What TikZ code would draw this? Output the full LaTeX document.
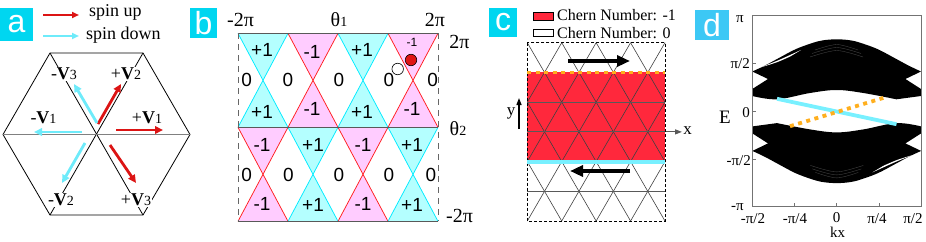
\documentclass[tikz,border=0pt]{standalone}
\usepackage{fontspec}
\setmainfont{Liberation Serif}
\setsansfont{Liberation Sans}
\usetikzlibrary{arrows.meta}
\newcommand\myfs[1]{\fontsize{#1}{#1}\selectfont}
\newcommand\vlabel[2]{#1\textbf{V}{\myfs{14}#2}}
\definecolor{boxcy}{RGB}{0,214,240}
\definecolor{boxcyd}{RGB}{60,200,245}
\definecolor{arrred}{RGB}{220,20,20}
\definecolor{arrcy}{RGB}{110,235,250}
\definecolor{cyf}{RGB}{180,255,255}
\definecolor{cyl}{RGB}{0,235,255}
\definecolor{pkf}{RGB}{255,204,255}
\definecolor{pkl}{RGB}{255,30,30}
\definecolor{chred}{RGB}{255,40,60}
\definecolor{edgeor}{RGB}{255,175,30}
\definecolor{edgecy}{RGB}{120,240,255}
\newcommand\bandshape{%
  \fill[black] plot[smooth, tension=0.6] coordinates {(752.3,71.5) (765,65.5) (778,58.5) (795,49.5) (810,43.8) (822,40.5) (836.7,39.3) (851.4,40.5) (863.4,43.8) (878.4,49.5) (895.4,58.5) (908.4,65.5) (921,71.5)}
    -- (905.4,79) -- (921,89) -- (921,96)
    -- plot[smooth, tension=0.6] coordinates {(896.4,99.3) (863.4,93) (836.7,90) (810,93) (777,99.3) (752.3,96)}
    -- (752.3,89) -- (768,79) -- cycle;
  \fill[white] plot[smooth] coordinates {(760,67.6) (778,60.4) (801,50)} -- plot[smooth] coordinates {(790,56.6) (777,62.2) (760,67.6)} -- cycle;
  \draw[gray!55!black, line width=0.35] plot[smooth] coordinates {(815,50) (836.7,44.5) (858,50)};
  \draw[gray!55!black, line width=0.35] plot[smooth] coordinates {(812,53.5) (836.7,47.5) (861,53.5)};
  \draw[gray!55!black, line width=0.35] plot[smooth] coordinates {(810,57) (836.7,50.5) (863,57)};
}
\begin{document}
\begin{tikzpicture}[x=1pt,y=-1pt,
  hexline/.style={draw=black, line width=0.8},
  vlab/.style={fill=white, inner sep=0.6pt, font=\myfs{18}},
  redarr/.style={draw=arrred, line width=2.8, -{Triangle[length=8pt,width=7.5pt]}},
  cyarr/.style={draw=arrcy, line width=2.8, -{Triangle[length=8pt,width=7.5pt]}},
  legred/.style={draw=arrred, line width=2.2, -{Triangle[length=7pt,width=6pt]}},
  legcy/.style={draw=arrcy, line width=2.2, -{Triangle[length=7pt,width=6pt]}},
  plabel/.style={fill=boxcy, text=white, font=\sffamily\myfs{32}, inner sep=0, minimum width=28, minimum height=30},
  numlab/.style={font=\sffamily\myfs{19}, inner sep=0},
  serlab/.style={font=\myfs{20}, inner sep=0},
  hgray/.style={draw=black!65, line width=0.9},
  latt/.style={draw=black!75, line width=0.6},
  blkarr/.style={draw=black, line width=4, -{Triangle[length=13pt,width=11pt]}},
  ticklab/.style={font=\myfs{15}, inner sep=0},
  edgecyl/.style={draw=edgecy, line width=3.8},
  edgeorl/.style={draw=edgeor, line width=3.8, dash pattern=on 4 off 4.5}
]
\useasboundingbox (0,0) rectangle (926,241);

% ---------------- panel a ----------------
\node[plabel, minimum width=33, minimum height=33] (la) at (16.5,24.5) {a};
\coordinate (lr1) at (43,15); \coordinate (lr2) at (79,15);
\coordinate (lc1) at (43,36); \coordinate (lc2) at (79,36);
\draw[legred] (lr1) -- (lr2);
\draw[legcy] (lc1) -- (lc2);
\node[anchor=base west, inner sep=0, font=\myfs{18}] (tup) at (89,16.5) {spin up};
\node[anchor=base west, inner sep=0, font=\myfs{18}] (tdn) at (86,39) {spin down};

\coordinate (hL) at (3,134.5); \coordinate (hTL) at (50,53); \coordinate (hTR) at (143,53);
\coordinate (hR) at (190,134.5); \coordinate (hBR) at (143,215); \coordinate (hBL) at (50,215);
\draw[hexline] (hL) -- (hTL) -- (hTR) -- (hR) -- (hBR) -- (hBL) -- cycle;
\draw[hexline] (hTL) -- (hBR);
\draw[hexline] (hTR) -- (hBL);
\draw[draw=gray, line width=1.4] (hL) -- (hR);

\node[vlab] (v3m) at (64,74) {\vlabel{-}{3}};
\node[vlab] (v2p) at (126,74) {\vlabel{+}{2}};
\node[vlab] (v1m) at (43.5,118) {\vlabel{-}{1}};
\node[vlab] (v1p) at (147,118) {\vlabel{+}{1}};
\node[vlab] (v2m) at (61,200) {\vlabel{-}{2}};
\node[vlab] (v3p) at (136,200) {\vlabel{+}{3}};

\coordinate (r2s) at (98,124); \coordinate (r2e) at (121,84);
\coordinate (r1s) at (116,130); \coordinate (r1e) at (163,130);
\coordinate (r3s) at (110,145); \coordinate (r3e) at (136,183);
\coordinate (c1s) at (82,132); \coordinate (c1e) at (34,132);
\coordinate (c3s) at (97,123); \coordinate (c3e) at (74,84);
\coordinate (c2s) at (85,143); \coordinate (c2e) at (62,183);
\draw[redarr] (r2s) -- (r2e);
\draw[redarr] (r1s) -- (r1e);
\draw[redarr] (r3s) -- (r3e);
\draw[cyarr] (c1s) -- (c1e);
\draw[cyarr] (c3s) -- (c3e);
\draw[cyarr] (c2s) -- (c2e);

% ---------------- panel b ----------------
\node[plabel, minimum width=27, minimum height=30] (lb) at (203.5,23) {b};
\foreach \i/\fa/\la/\fb/\lb in {0/cyf/cyl/pkf/pkl,1/pkf/pkl/cyf/cyl,2/cyf/cyl/pkf/pkl,3/pkf/pkl/cyf/cyl}{
  \pgfmathsetmacro\xa{238+50*\i}
  \pgfmathsetmacro\xb{\xa+25}
  \pgfmathsetmacro\xc{\xa+50}
  \fill[\fa] (\xa,33.3) -- (\xc,33.3) -- (\xb,80.3) -- cycle;
  \fill[\fa] (\xa,127.3) -- (\xc,127.3) -- (\xb,80.3) -- cycle;
  \fill[\fb] (\xa,127.3) -- (\xc,127.3) -- (\xb,174.3) -- cycle;
  \fill[\fb] (\xa,221.3) -- (\xc,221.3) -- (\xb,174.3) -- cycle;
  \draw[\la, line width=0.75] (\xa,33.3) -- (\xc,127.3) (\xc,33.3) -- (\xa,127.3);
  \draw[\lb, line width=0.75] (\xa,127.3) -- (\xc,221.3) (\xc,127.3) -- (\xa,221.3);
}
\coordinate (bTL) at (238,33.3); \coordinate (bTR) at (438,33.3);
\coordinate (bML) at (238,127.3); \coordinate (bMR) at (438,127.3);
\coordinate (bBL) at (238,221.3); \coordinate (bBR) at (438,221.3);
\draw[hgray] (bTL) -- (bTR);
\draw[hgray] (bML) -- (bMR);
\draw[hgray] (bBL) -- (bBR);
\draw[draw=black!60, line width=0.8, dash pattern=on 6 off 5] (bTL) -- (bBL);
\draw[draw=black!60, line width=0.8, dash pattern=on 6 off 5] (bTR) -- (bBR);

\node[numlab] (b01) at (246.7,80) {0};
\node[numlab] (b02) at (288,80) {0};
\node[numlab] (b03) at (339,80) {0};
\node[numlab] (b04) at (389,80) {0};
\node[numlab] (b05) at (432.7,80) {0};
\node[numlab] (b06) at (246.7,175) {0};
\node[numlab] (b07) at (288.3,175) {0};
\node[numlab] (b08) at (339,175) {0};
\node[numlab] (b09) at (389,175) {0};
\node[numlab] (b10) at (431,175) {0};
\node[numlab] (t1) at (262,50) {+1};
\node[numlab] (t2) at (312,52) {-1};
\node[numlab] (t3) at (362,50) {+1};
\node[numlab, font=\sffamily\myfs{12}] (t4) at (412,42) {-1};
\node[numlab] (u1) at (262,112) {+1};
\node[numlab] (u2) at (312,109) {-1};
\node[numlab] (u3) at (362,112) {+1};
\node[numlab] (u4) at (412,109) {-1};
\node[numlab] (d1) at (262,145) {-1};
\node[numlab] (d2) at (313,145) {+1};
\node[numlab] (d3) at (363,145) {-1};
\node[numlab] (d4) at (412,145) {+1};
\node[numlab] (e1) at (262,204) {-1};
\node[numlab] (e2) at (313,205) {+1};
\node[numlab] (e3) at (363,204) {-1};
\node[numlab] (e4) at (412,205) {+1};
\node[circle, draw=black, fill=arrred!90!pkl, line width=0.6, minimum size=11.5, inner sep=0] (dotr) at (411,60) {};
\node[circle, draw=black, fill=white, line width=0.6, minimum size=11.5, inner sep=0] (dotw) at (397.7,69) {};

\node[serlab] (m2pi) at (240.5,20) {-2π};
\node[serlab] (th1) at (339,20) {θ{\myfs{14}1}};
\node[serlab] (p2pi) at (435,20) {2π};
\node[serlab] (p2pi2) at (459.5,42) {2π};
\node[serlab] (th2) at (458,128.5) {θ{\myfs{14}2}};
\node[serlab] (m2pi2) at (459.5,216) {-2π};

% ---------------- panel c ----------------
\node[plabel, minimum width=28, minimum height=29] (lc) at (503,22.5) {c};
\fill[chred] (527.3,72.4) rectangle (665,161.6);
\begin{scope}
  \clip (527.3,42.7) rectangle (665,221);
  \foreach \m in {-3,...,7}{
    \draw[latt] ({527.3+34.42*\m},42.7) -- ++(103.26,178.3);
    \draw[latt] ({527.3+34.42*\m},42.7) -- ++(-103.26,178.3);
  }
\end{scope}
\coordinate (cL2) at (527.3,102.1); \coordinate (cR2) at (665,102.1);
\coordinate (cL3) at (527.3,131.9); \coordinate (xax) at (682,131.9);
\coordinate (cL5) at (527.3,191.3); \coordinate (cR5) at (665,191.3);
\coordinate (cL1) at (527.3,72.4); \coordinate (cR1) at (665,72.4);
\coordinate (cL4) at (527.3,161.6); \coordinate (cR4) at (665,161.6);
\draw[hgray, line width=1.1] (cL2) -- (cR2);
\draw[hgray, line width=1.1] (cL5) -- (cR5);
\draw[hgray, line width=1.1, -{Triangle[length=7pt,width=5pt]}] (cL3) -- (xax);
\draw[black, line width=0.6, dash pattern=on 3 off 2] (527.3,42.7) rectangle (665,221);
\draw[edgecyl] (cL4) -- (cR4);
\draw[edgeorl] (cL1) -- (cR1);
\coordinate (ta1) at (568,61); \coordinate (ta2) at (630,61);
\coordinate (ba1) at (630,171); \coordinate (ba2) at (570,171);
\draw[blkarr] (ta1) -- (ta2);
\draw[blkarr] (ba1) -- (ba2);
\coordinate (ya1) at (519,129); \coordinate (ya2) at (519,98);
\draw[black, line width=1.3, -{Triangle[length=7pt,width=5pt]}] (ya1) -- (ya2);
\node[font=\myfs{17}, inner sep=0] (ylab) at (511,113) {y};
\node[font=\myfs{17}, inner sep=0] (xlab) at (687.5,131) {x};
\draw[black, fill=chred, line width=0.5] (533,12.5) rectangle (553,20);
\draw[black, fill=white, line width=0.5] (533,29) rectangle (553,36);
\node[anchor=west, inner sep=0, font=\myfs{16}] (leg1) at (557,15.5) {Chern Number: -1};
\node[anchor=west, inner sep=0, font=\myfs{16}] (leg2) at (557,33) {Chern Number: 0};

% ---------------- panel d ----------------
\node[plabel, fill=boxcyd, minimum width=34, minimum height=30] (ld) at (712,25) {d};
\bandshape
\begin{scope}[shift={(1673.4,222.4)}, xscale=-1, yscale=-1]
  \bandshape
\end{scope}
\coordinate (cy1) at (777,98.8); \coordinate (cy2) at (896.5,124.2);
\coordinate (or1) at (790,126.2); \coordinate (or2) at (885,97.4);
\draw[edgecyl] (cy1) -- (cy2);
\draw[edgeorl] (or1) -- (or2);
\draw[draw=black!55, line width=0.6] (752.3,15.7) rectangle (921,206.7);
\foreach \yy in {63.5,111.2,159}{ \draw[black!55, line width=0.6] (752.3,\yy) -- ++(4,0); }
\foreach \xx in {794.5,836.7,878.9}{ \draw[black!55, line width=0.6] (\xx,206.7) -- ++(0,-4); }
\node[ticklab] (dy1) at (740,19.5) {π};
\node[ticklab, anchor=east] (dy2) at (750,64) {π/2};
\node[ticklab, anchor=east] (dy3) at (750,112.5) {0};
\node[ticklab, anchor=east] (dy4) at (751,161) {-π/2};
\node[ticklab] (dy5) at (737.5,207.5) {-π};
\node[ticklab] (dx1) at (753,219) {-π/2};
\node[ticklab] (dx2) at (795,219) {-π/4};
\node[ticklab] (dx3) at (836.7,218) {0};
\node[ticklab] (dx4) at (877,219) {π/4};
\node[ticklab] (dx5) at (913,219) {π/2};
\node[ticklab] (kx) at (837.5,232) {kx};
\node[font=\myfs{19}, inner sep=0] (elab) at (725,117) {E};
\end{tikzpicture}
\end{document}
